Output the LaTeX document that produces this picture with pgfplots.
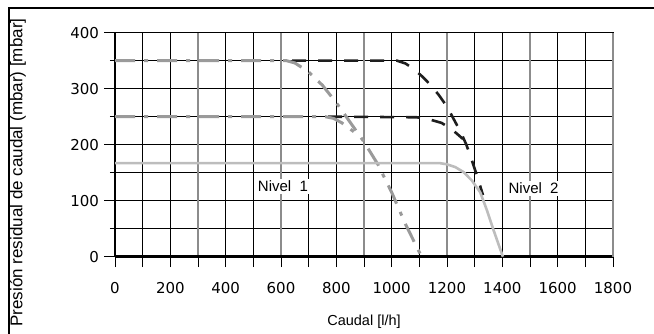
\documentclass[border=0pt]{standalone}
\usepackage{pgfplots}
\pgfplotsset{compat=1.18}
\usepackage{fontspec}
\setmainfont{Liberation Sans}
\newfontfamily\tickfont{DejaVu Sans}
\definecolor{dkline}{HTML}{1E1E1E}
\definecolor{gdash}{HTML}{9A9A9A}
\definecolor{gsolid}{HTML}{BDBDBD}
\definecolor{ggrid}{HTML}{8C8C8C}
\begin{document}
\begin{tikzpicture}
\useasboundingbox (0,0) rectangle (654pt,334pt);
\clip (0,0) rectangle (654pt,334pt);
\draw[line width=1.3pt] (9pt,-20pt) -- (9pt,326pt) -- (700pt,326pt);
\begin{axis}[
  at={(115pt,77.3pt)}, anchor=south west,
  scale only axis, width=498pt, height=224pt,
  xmin=0, xmax=1800, ymin=0, ymax=400,
  xtick={0,100,...,1800},
  xticklabels={0,,200,,400,,600,,800,,1000,,1200,,1400,,1600,,1800},
  ytick={0,100,...,400},
  minor ytick={50,150,...,350},
  tick pos=left, tick align=outside,
  major tick length=10.5pt, minor tick length=5pt,
  tick style={black, line width=0.8pt},
  minor tick style={black, line width=0.8pt},
  grid=both,
  major grid style={black, line width=0.8pt},
  minor grid style={black, line width=0.8pt},
  axis line style={black, line width=0.8pt},
  /pgf/number format/assume math mode=true,
  /pgf/number format/set thousands separator={},
  ticklabel style={font=\tickfont\fontsize{15}{17}\selectfont},
  xticklabel style={yshift=-12pt},
  yticklabel style={xshift=-2pt},
  extra x ticks={300,600,900,1200,1500,1800},
  extra x tick labels={},
  extra x tick style={grid=major, major grid style={ggrid, line width=1.4pt}, tick style={draw=none}},
  xlabel={Caudal [l/h]},
  xlabel style={font=\fontsize{14.5}{16}\selectfont, at={(axis description cs:0.5,0)}, anchor=center, yshift=-65pt},
  ylabel={Presión residual de caudal (mbar) [mbar]},
  ylabel style={font=\fontsize{17}{19}\selectfont, at={(axis description cs:-0.195,1.079)}, anchor=east},
  clip=false,
]
% thick axis lines
\draw[black, line width=2.5pt] (axis cs:0,0) -- (axis cs:1800,0);
\draw[black, line width=2.5pt] (axis cs:0,0) -- (axis cs:0,400);
\draw[ggrid, line width=1.4pt] (axis cs:1800,0) -- (axis cs:1800,400);

% black dashed curves
\addplot[dkline, line width=2.6pt, dash pattern=on 14pt off 12pt, line join=round] coordinates {
 (640,350) (1020,350) (1050,345) (1080,335) (1110,322) (1140,307) (1170,289) (1200,268) (1225,245) (1250,222) (1270,200) (1290,172) (1310,142) (1330,110)
};
\addplot[dkline, line width=2.6pt, dash pattern=on 14pt off 12pt, line join=round] coordinates {
 (770,250) (1090,249) (1130,246) (1180,239) (1210,230) (1235,220) (1258,210)
};
% gray dash-dot curves
\addplot[gdash, line width=3pt, dash pattern=on 20pt off 9pt on 4pt off 9pt, line join=round] coordinates {
 (0,350) (620,350) (650,346) (700,330) (750,306) (800,275) (850,240) (900,205) (950,165) (1000,115) (1050,58) (1108,0)
};
\addplot[gdash, line width=3pt, dash pattern=on 20pt off 9pt on 4pt off 9pt, line join=round] coordinates {
 (0,250) (760,250) (790,247) (820,239) (850,228) (880,217)
};
% gray solid curve
\addplot[gsolid, line width=2.6pt, line join=round] coordinates {
 (0,167) (1175,167) (1200,165) (1230,160) (1260,151) (1290,136) (1320,115) (1345,82) (1370,45) (1402,0)
};
\node[fill=white, inner sep=2pt, font=\fontsize{15}{17}\selectfont] at (axis cs:607,126) {Nivel\ \ 1};
\node[fill=white, inner sep=2pt, font=\fontsize{15}{17}\selectfont] at (axis cs:1513,122) {Nivel\ \ 2};
\end{axis}
\end{tikzpicture}
\end{document}
